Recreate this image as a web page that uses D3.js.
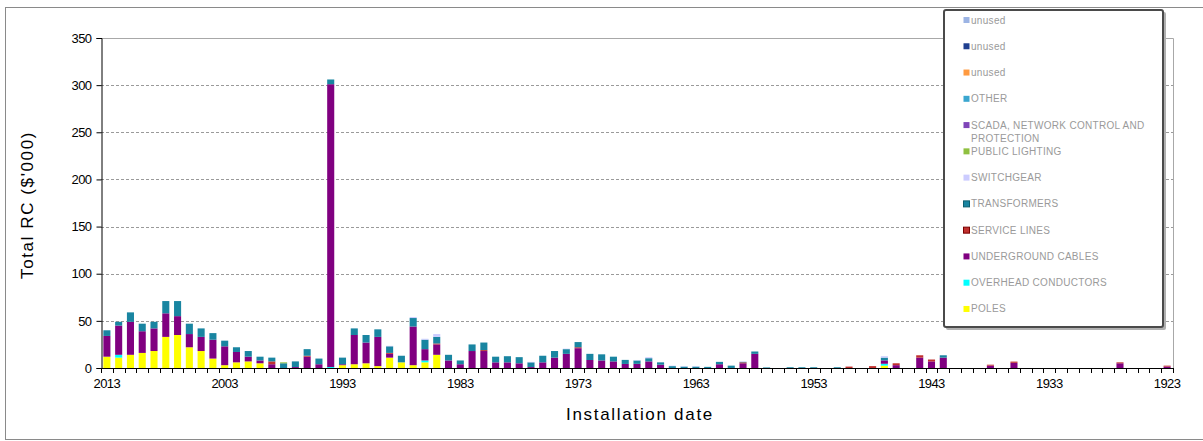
<!DOCTYPE html>
<html>
<head>
<meta charset="utf-8">
<script src="https://cdn.jsdelivr.net/npm/d3@7"></script>
<style>
  html, body { margin: 0; padding: 0; background: #fff; }
  svg { display: block; font-family: "Liberation Sans", Arial, sans-serif; }
</style>
</head>
<body>
<svg id="chart" width="1203" height="441"></svg>
<script>
// Installation years, newest first (2013 down to 1923)
const years = d3.range(2013, 1922, -1);

// Replacement cost by asset class, $'000, one value per year above
const poles = [12,11,14,16,18,33,35,22,18,10, 3,6,7,5,0,0,0,0,0,0, 3,4,5,2,11,6,3,6,14,0, 0,0,0,0,0,0,0,0,0,0, 0,0,0,0,0,0,0,0,0,0, 0,0,0,0,0,0,0,0,0,0, 0,0,0,0,0,0,2.5,0,0,0, 0,0,0,0,0,0,0,0,0,0, 0,0,0,0,0,0,0,0,0,0, 0];
const overhead = [0,3,0,0,0,0,0,0,0,0, 0,0,0,0,0,0,0,0,0,1, 0,0,0,0,0,0,0,2,0,0, 0,0,0,0,0,0,0,0,0,0, 0,0,0,0,0,0,0,0,0,0, 0,0,0,0,0,0,0,0,0,0, 0,0,0,0,0,0,2,0,0,0, 0,0,0,0,0,0,0,0,0,0, 0,0,0,0,0,0,0,0,0,0, 0];
const underground = [22,31,35,23,24,25,20,14,15,20, 20,11,5,3,4,0,1,12,4,300, 1,31,22,31,4,0,41,12,11,8, 4,18,18,6,6,5,1,6,11,15, 21,8.5,8,7,4.3,4.4,7,3.5,0,0, 0,0,4,0,5,15,0,0,0,0, 0,0,0,0,0,0,3.5,3,0,11, 7,11,0,0,0,2.5,0,5.5,0,0, 0,0,0,0,0,0,5,0,0,0, 1.5];
const serviceLines = [0,0,0,0,0,0,0,0,0,0, 0,0,0,0,3,0,0,1,0,0, 0,0,0,0,1,0,0,0,1,0, 0,0,1,0,0,0,0,0,0,0, 1,0,0,0,0,0,0,0,0,0, 0,0,0,0,1,0,0,0,0,0, 0,0,0,1.5,0,2,0,2,0,2.5, 2,0,0,0,0,1,0,1.3,0,0, 0,0,0,0,0,0,1,0,0,0, 1];
const transformers = [6,4,10,8,7,13,16,11,9,7, 6,5,6,4,4,5,6,7,6,5, 7,7,8,8,7,7,9,10,7,6, 4,7,8,6,6.5,6.5,5,7,7,5, 5.5,6.5,6.5,5,4.3,3.6,3.4,2.5,2,1.5, 1.5,1.2,2.5,2.5,0.5,2.5,0.6,0,0.8,0.8, 0.8,0,0.8,0,0,0,3,0,0,0, 0,2.5,0,0,0,0,0,0,0,0, 0,0,0,0,0,0,0,0,0,0, 0];
const switchgear = [0,0,0,0,0,0,0,0,0,0, 0,0,0,0,0,0,0,0,0,0, 0,0,0,0,0.5,0,1,1,3,0, 0,0,0,0,0,0,0.5,0,0,0.5, 0,0,0,0,0,0.5,1,0,0.5,0.5, 0.5,0,0,0,0.5,0,0,0,0,0, 0,0,0,0,0,0,1.5,0,0,0, 0,0,0,0,0,0,0,0,0,0, 0,0,0,0,0,0,0,0,0,0, 0];
const publicLighting = [0,0,0,0,0,0,0,0,0,0, 0,0,0,0,0,1,0,0,0,0, 0,0,0,0,0,0,0,0,0,0, 0,0,0,0,0,0,0,0,0,0, 0,0,0,0,0,0,0,0,0,0, 0,0,0,0,0,0,0,0,0,0, 0,0,0,0,0,0,0,0,0,0, 0,0,0,0,0,0,0,0,0,0, 0,0,0,0,0,0,0,0,0,0, 0];
const zeros = years.map(() => 0);
const scada = zeros, other = zeros, unused1 = zeros, unused2 = zeros, unused3 = zeros;

// Stack order, bottom to top
const seriesNames = ["POLES","OVERHEAD CONDUCTORS","UNDERGROUND CABLES","SERVICE LINES","TRANSFORMERS","SWITCHGEAR","PUBLIC LIGHTING","SCADA, NETWORK CONTROL AND PROTECTION","OTHER","unused","unused ","unused  "];
const seriesValues = [poles, overhead, underground, serviceLines, transformers, switchgear, publicLighting, scada, other, unused3, unused2, unused1];
const seriesColors = ["#ffff00","#00ffff","#800080","#c0302e","#1985a1","#ccccff","#8fc040","#7f45b8","#3aa6cf","#ff9a40","#1f3f8f","#9cb4e4"];
const seriesStrokes = [null,null,null,"#7a0000","#0d5f70",null,null,null,null,null,null,null];

const yTicks = [0,50,100,150,200,250,300,350];
const xLabelYears = [2013,2003,1993,1983,1973,1963,1953,1943,1933,1923];

const svg = d3.select("#chart");
const plot = { left: 101, right: 1173, top: 38, bottom: 368 };

const x = d3.scaleBand().domain(years).range([plot.left, plot.right]).paddingInner(0.4).paddingOuter(0.2);
const y = d3.scaleLinear().domain([0, 350]).range([plot.bottom, plot.top]);

// Chart frame
svg.append("rect").attr("x", 5.5).attr("y", 7.5).attr("width", 1210).attr("height", 432)
  .attr("fill", "#fff").attr("stroke", "#8a8a8a");

// Gridlines
svg.append("g").selectAll("line").data(yTicks.filter(t => t > 0 && t < 350)).join("line")
  .attr("x1", plot.left).attr("x2", plot.right)
  .attr("y1", d => Math.round(y(d)) + 0.5).attr("y2", d => Math.round(y(d)) + 0.5)
  .attr("stroke", "#9a9a9a").attr("stroke-dasharray", "3,2");
// Plot area top and right edges
svg.append("path")
  .attr("d", `M${plot.left},${y(350) + 0.5}H${plot.right + 0.5}V${plot.bottom}`)
  .attr("fill", "none").attr("stroke", "#a8a8a8");

// Stacked bars
const table = years.map((yr, i) => {
  const row = { year: yr };
  seriesNames.forEach((n, k) => row[n] = seriesValues[k][i]);
  return row;
});
const stack = d3.stack().keys(seriesNames)(table);
svg.append("g").selectAll("g").data(stack).join("g")
  .attr("fill", (d, k) => seriesColors[k])
  .selectAll("rect").data(d => d.filter(p => p[1] - p[0] > 0)).join("rect")
  .attr("x", d => x(d.data.year))
  .attr("width", x.bandwidth())
  .attr("y", d => y(d[1]))
  .attr("height", d => y(d[0]) - y(d[1]));

// Y axis
const yAxis = svg.append("g").attr("transform", `translate(${plot.left + 0.5},0)`)
  .call(d3.axisLeft(y).tickValues(yTicks).tickSize(5).tickPadding(5));
yAxis.selectAll("path, line").attr("stroke", "#000");
yAxis.selectAll("text").attr("font-size", 13).attr("letter-spacing", "-0.6px")
  .attr("font-family", "Liberation Sans, Arial, sans-serif").attr("fill", "#000");

// X axis: baseline, ticks between categories, labels every ten years
const xa = svg.append("g");
xa.append("line").attr("x1", plot.left).attr("x2", plot.right)
  .attr("y1", plot.bottom + 0.5).attr("y2", plot.bottom + 0.5).attr("stroke", "#000");
const half = (x.step() - x.bandwidth()) / 2;
const bounds = years.map(yr => x(yr) - half).concat([plot.right]);
xa.selectAll("line.tick").data(bounds).join("line").attr("class", "tick")
  .attr("x1", d => Math.round(d) + 0.5).attr("x2", d => Math.round(d) + 0.5)
  .attr("y1", plot.bottom).attr("y2", plot.bottom + 5).attr("stroke", "#000");
xa.selectAll("text").data(xLabelYears).join("text")
  .attr("x", d => x(d) + x.bandwidth() / 2).attr("y", 388)
  .attr("text-anchor", "middle").attr("font-size", 13).attr("letter-spacing", "-0.6px")
  .text(d => d);

// Axis titles
svg.append("text").attr("transform", "translate(33,205) rotate(-90)")
  .attr("text-anchor", "middle").attr("font-size", 17).attr("letter-spacing", "1.6px")
  .text("Total RC ($'000)");
svg.append("text").attr("x", 640).attr("y", 420)
  .attr("text-anchor", "middle").attr("font-size", 17).attr("letter-spacing", "1.7px")
  .text("Installation date");

// Legend (last series first)
const lg = svg.append("g");
lg.append("rect").attr("x", 946).attr("y", 12).attr("width", 220).attr("height", 318)
  .attr("fill", "#b0b0b0").attr("rx", 2);
lg.append("rect").attr("x", 944).attr("y", 10).attr("width", 219).attr("height", 317)
  .attr("fill", "#fff").attr("stroke", "#4a4a4a").attr("stroke-width", 2).attr("rx", 2);
const legendItems = seriesNames.map((n, k) => ({ name: n.trim(), color: seriesColors[k], stroke: seriesStrokes[k] })).reverse();
const rowH = 26.27;
legendItems.forEach((it, j) => {
  const cy = 20 + j * rowH;
  lg.append("rect").attr("x", 963.5).attr("y", cy - 3).attr("width", 6).attr("height", 6)
    .attr("fill", it.color).attr("stroke", it.stroke || "none").attr("stroke-width", 1);
  const t = lg.append("text").attr("x", 971).attr("y", cy + 3.5)
    .attr("font-size", 10).attr("fill", "#9a9a9a").attr("letter-spacing", "0.3px");
  if (it.name.startsWith("SCADA")) {
    t.append("tspan").attr("x", 971).text("SCADA, NETWORK CONTROL AND");
    t.append("tspan").attr("x", 971).attr("dy", 13.4).text("PROTECTION");
  } else {
    t.text(it.name);
  }
});
</script>
</body>
</html>
